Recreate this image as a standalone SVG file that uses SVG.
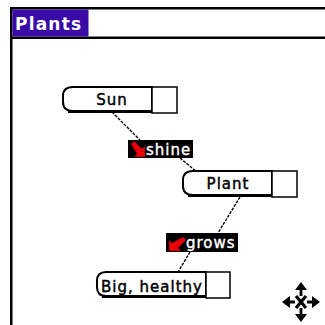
<svg xmlns="http://www.w3.org/2000/svg" width="325" height="325" viewBox="0 0 325 325">
  <style>
    .node-body { fill: #fff; stroke: #000; stroke-width: 2; }
    .node-base { fill: none; stroke: #000; stroke-width: 3; }
    .node-box { fill: #fff; stroke: #000; stroke-width: 1.5; }
    .node-text { font-family: "DejaVu Sans", sans-serif; font-size: 15px; letter-spacing: 1px; fill: #000; stroke: #000; stroke-width: 0.45; text-anchor: middle; }
    .tag-bg { fill: #000; }
    .tag-text { font-family: "DejaVu Sans", sans-serif; font-size: 15px; letter-spacing: 1px; fill: #fff; stroke: #fff; stroke-width: 0.4; }
    .link { fill: none; stroke: #000; stroke-width: 1.4; stroke-dasharray: 3 1.2; }
    .tag-arrow { fill: #e8000b; stroke: #600; stroke-width: 0.6; }
  </style>

  <rect width="325" height="325" fill="#fff"/>

  <!-- window frame and title tab -->
  <g id="frame">
    <rect x="10" y="7" width="315" height="2.5" fill="#000"/>
    <rect x="10" y="7" width="2.5" height="318" fill="#000"/>
    <rect x="10" y="36.5" width="315" height="2.5" fill="#000"/>
    <rect x="12.5" y="9.5" width="76" height="27" fill="#3a0aa6"/>
    <text x="15" y="30" font-family="DejaVu Sans, sans-serif" font-weight="bold" font-size="17" letter-spacing="1.2" fill="#fff">Plants</text>
  </g>

  <!-- connectors -->
  <g id="connectors">
    <path class="link" d="M112,112 L140,140"/>
    <path class="link" d="M180,158 L197,172"/>
    <path class="link" d="M240,197 L218,233"/>
    <path class="link" d="M190,252 L178,272"/>
  </g>

  <!-- nodes -->
  <g id="node-sun">
    <path class="node-body" d="M152,87 H73 Q63,87 63,96 V102 Q63,111 73,111 H152 Z"/>
    <path class="node-base" d="M68,111.5 H152"/>
    <rect class="node-box" x="152" y="87" width="25" height="26"/>
    <text class="node-text" x="112" y="105">Sun</text>
  </g>

  <g id="node-plant">
    <path class="node-body" d="M272,171 H193 Q183,171 183,180 V186 Q183,195 193,195 H272 Z"/>
    <path class="node-base" d="M188,195.5 H272"/>
    <rect class="node-box" x="272" y="171" width="25" height="26"/>
    <text class="node-text" x="228" y="189">Plant</text>
  </g>

  <g id="node-big-healthy">
    <path class="node-body" d="M206,272 H106 Q97,272 97,281 V287 Q97,296 106,296 H206 Z"/>
    <path class="node-base" d="M102,296.5 H206"/>
    <rect class="node-box" x="206" y="272" width="24" height="26"/>
    <text class="node-text" x="152" y="292">Big, healthy</text>
  </g>

  <!-- relation tags -->
  <g id="tag-shine">
    <rect class="tag-bg" x="128" y="140" width="65" height="18"/>
    <path class="tag-arrow" d="M131,144 L134,141 L142,149 L145,146 L145,157 L134,157 L137,154 Z"/>
    <text class="tag-text" x="146" y="155">shine</text>
  </g>

  <g id="tag-grows">
    <rect class="tag-bg" x="166" y="233" width="72" height="19"/>
    <path class="tag-arrow" d="M183,237 L186,240 L178,248 L181,251 L169,251 L169,240 L172,243 Z"/>
    <text class="tag-text" x="186" y="248">grows</text>
  </g>

  <!-- move cursor -->
  <g id="move-cursor" fill="#000" stroke="#000">
    <path d="M296,296 L306,308 M306,296 L296,308" stroke-width="3.2" fill="none"/>
    <path d="M301,296 V289 M301,308 V315 M295,302 H288 M307,302 H314" stroke-width="2.8" fill="none"/>
    <path d="M301,282 L295,290 L307,290 Z M301,322 L295,314 L307,314 Z M282,302 L290,296 L290,308 Z M320,302 L312,296 L312,308 Z" stroke="none"/>
  </g>
</svg>
